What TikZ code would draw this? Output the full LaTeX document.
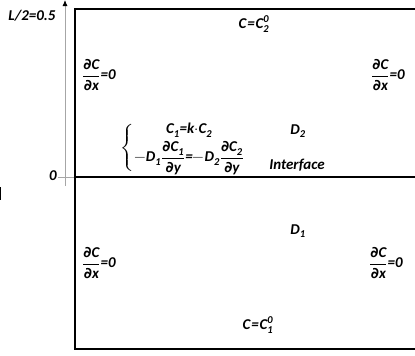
\documentclass[tikz,border=0pt]{standalone}
\usepackage{amsmath}
\usepackage{unicode-math}
\setmainfont{Carlito}
\unimathsetup{partial=upright}
\setmathfont{Latin Modern Math}
\setmathfont[range={it/{Latin,latin}, up/{num}, "003D, "00B7, "2212, "002F, "002E}]{Carlito Bold Italic}
\setmathfont[range={"2202}]{DejaVu Sans Bold Oblique}
\usetikzlibrary{arrows.meta, positioning}

\begin{document}
\begin{tikzpicture}[
			x=1pt, y=-1pt,
			wall/.style={line width=2.6pt, black},
			axis/.style={line width=0.8pt, gray!70},
			lbl/.style={font=\fontsize{15}{17}\selectfont\bfseries\itshape, inner sep=1pt},
			bc/.style={lbl}
			]
			\useasboundingbox (0,0) rectangle (415,356);
			
			% ---------------- DOMAIN ----------------
			\draw[wall] (430,9) -- (75,9) -- (75,349) -- (430,349);
			\draw[wall] (75,177) -- (430,177);
			
			% ---------------- AXIS ----------------
			\coordinate (ybot) at (65,186);
			\coordinate (ytop) at (65,0);
			\coordinate (tick0) at (58,177);
			\coordinate (tick1) at (74,177);
			\draw[axis, -{Latex[black, length=6pt, width=5pt]}] (ybot) -- (ytop);
			\draw[axis] (tick0) -- (tick1);
			\node[lbl] (half) at (32,16) {$L/2{=}0.5$};
			\node[lbl] (zero) at (53,176) {$0$};
			\draw[line width=2pt] (0,187) -- (0,200);
			
			% ---------------- UPPER PHASE ----------------
			\node[bc] (top) at (254,24) {$C\mkern1mu{=}\mkern1mu C_2^0$};
			\node[bc] (lefttop) at (99,75) {$\dfrac{\partial C}{\partial x}{=}0$};
			\node[bc] (righttop) at (388,75) {$\dfrac{\partial C}{\partial x}{=}0$};
			\node[lbl] (d2) at (298,131) {$D_2$};
			\node[lbl] (iface) at (297,165) {Interface};
			\node[lbl] (cond) at (183,148) {$\left\{\begin{array}{@{}c@{}}
				C_1{=}k{\cdot}C_2\\[3pt]
				-D_1\dfrac{\partial C_1}{\partial y}{=}{-}D_2\dfrac{\partial C_2}{\partial y}
				\end{array}\right.$};
			
			% ---------------- LOWER PHASE ----------------
			\node[lbl] (d1) at (298,231) {$D_1$};
			\node[bc] (leftbot) at (99,263) {$\dfrac{\partial C}{\partial x}{=}0$};
			\node[bc] (rightbot) at (386,263) {$\dfrac{\partial C}{\partial x}{=}0$};
			\node[bc] (bot) at (258,325) {$C\mkern1mu{=}\mkern1mu C_1^0$};
			
		\end{tikzpicture}
\end{document}
